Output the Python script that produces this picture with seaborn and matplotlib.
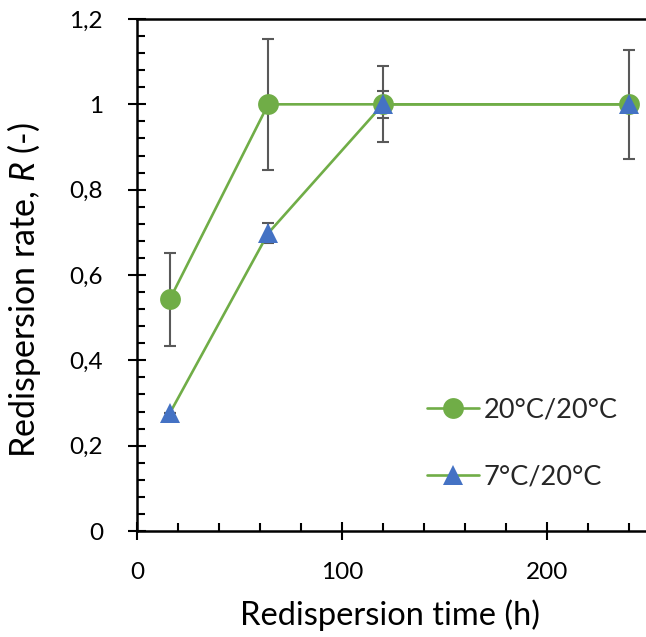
import matplotlib
matplotlib.use("Agg")
import matplotlib.pyplot as plt
import seaborn as sns
import pandas as pd
from matplotlib.ticker import MultipleLocator, FixedLocator, FixedFormatter

# ---- data ----
time_h = [16, 64, 120, 240]
r_20_20 = [0.543, 1.0, 1.0, 1.0]
err_20_20 = [0.109, 0.154, 0.089, 0.128]
r_7_20 = [0.276, 0.698, 1.0, 1.0]
err_7_20 = [0.0, 0.024, 0.031, 0.0]
series_labels = ["20°C/20°C", "7°C/20°C"]
x_ticks = [0, 100, 200]
x_ticklabels = ["0", "100", "200"]
y_ticks = [0, 0.2, 0.4, 0.6, 0.8, 1.0, 1.2]
y_ticklabels = ["0", "0,2", "0,4", "0,6", "0,8", "1", "1,2"]

GREEN = "#70AD47"
BLUE = "#4472C4"
GREY = "#595959"

sns.set_style("ticks")
plt.rcParams["font.family"] = ["Lato", "DejaVu Sans"]
plt.rcParams["mathtext.fontset"] = "custom"
plt.rcParams["mathtext.it"] = "Lato:italic"
plt.rcParams["mathtext.rm"] = "Lato"

fig = plt.figure(figsize=(6.46, 6.37), dpi=100)
W, H = 646, 637
ax = fig.add_axes([137 / W, (H - 531) / H, 512.5 / W, 512 / H])

df1 = pd.DataFrame({"t": time_h, "r": r_20_20})
df2 = pd.DataFrame({"t": time_h, "r": r_7_20})

ax.errorbar(time_h, r_20_20, yerr=err_20_20, fmt="none", ecolor=GREY,
            elinewidth=1.5, capsize=4.5, capthick=1.5, zorder=1)
ax.errorbar(time_h, r_7_20, yerr=err_7_20, fmt="none", ecolor=GREY,
            elinewidth=1.5, capsize=4.5, capthick=1.5, zorder=1)

sns.lineplot(data=df1, x="t", y="r", ax=ax, color=GREEN, linewidth=1.9,
             marker="o", markersize=15, markerfacecolor=GREEN,
             markeredgecolor=GREEN, markeredgewidth=0, label=series_labels[0],
             sort=False, zorder=3)
sns.lineplot(data=df2, x="t", y="r", ax=ax, color=GREEN, linewidth=1.9,
             marker="^", markersize=14.5, markerfacecolor=BLUE,
             markeredgecolor=BLUE, markeredgewidth=0, label=series_labels[1],
             sort=False, zorder=4)

ax.set_xlim(0, 250)
ax.set_ylim(0, 1.2)
ax.xaxis.set_major_locator(FixedLocator(x_ticks))
ax.xaxis.set_major_formatter(FixedFormatter(x_ticklabels))
ax.yaxis.set_major_locator(FixedLocator(y_ticks))
ax.yaxis.set_major_formatter(FixedFormatter(y_ticklabels))
ax.xaxis.set_minor_locator(MultipleLocator(20))
ax.yaxis.set_minor_locator(MultipleLocator(0.04))

for side in ["left", "bottom", "top", "right"]:
    ax.spines[side].set_visible(True)
    ax.spines[side].set_color("black")
    ax.spines[side].set_linewidth(1.8)

ax.tick_params(which="major", direction="inout", length=13, width=1.5,
               labelsize=17.5, color="black", labelcolor="black")
ax.tick_params(axis="y", which="major", pad=18)
ax.tick_params(axis="x", which="major", pad=16)
ax.tick_params(which="minor", direction="in", length=5.5, width=1.5, color="black")
ax.tick_params(top=False, right=False, which="both")

ax.set_xlabel("Redispersion time (h)", fontsize=23.5, color="black")
ax.set_ylabel("Redispersion rate, $\\mathit{R}$ (-)", fontsize=24.5, color="black")
ax.xaxis.set_label_coords(0.494, -0.133)
ax.yaxis.set_label_coords(-0.183, 0.47)

leg = ax.legend(loc="center left", bbox_to_anchor=(0.566, 0.171), frameon=False,
                fontsize=19.5, handlelength=1.9, handletextpad=0.2,
                labelspacing=1.55, borderpad=0, borderaxespad=0)

fig.savefig("out.png", dpi=100)
